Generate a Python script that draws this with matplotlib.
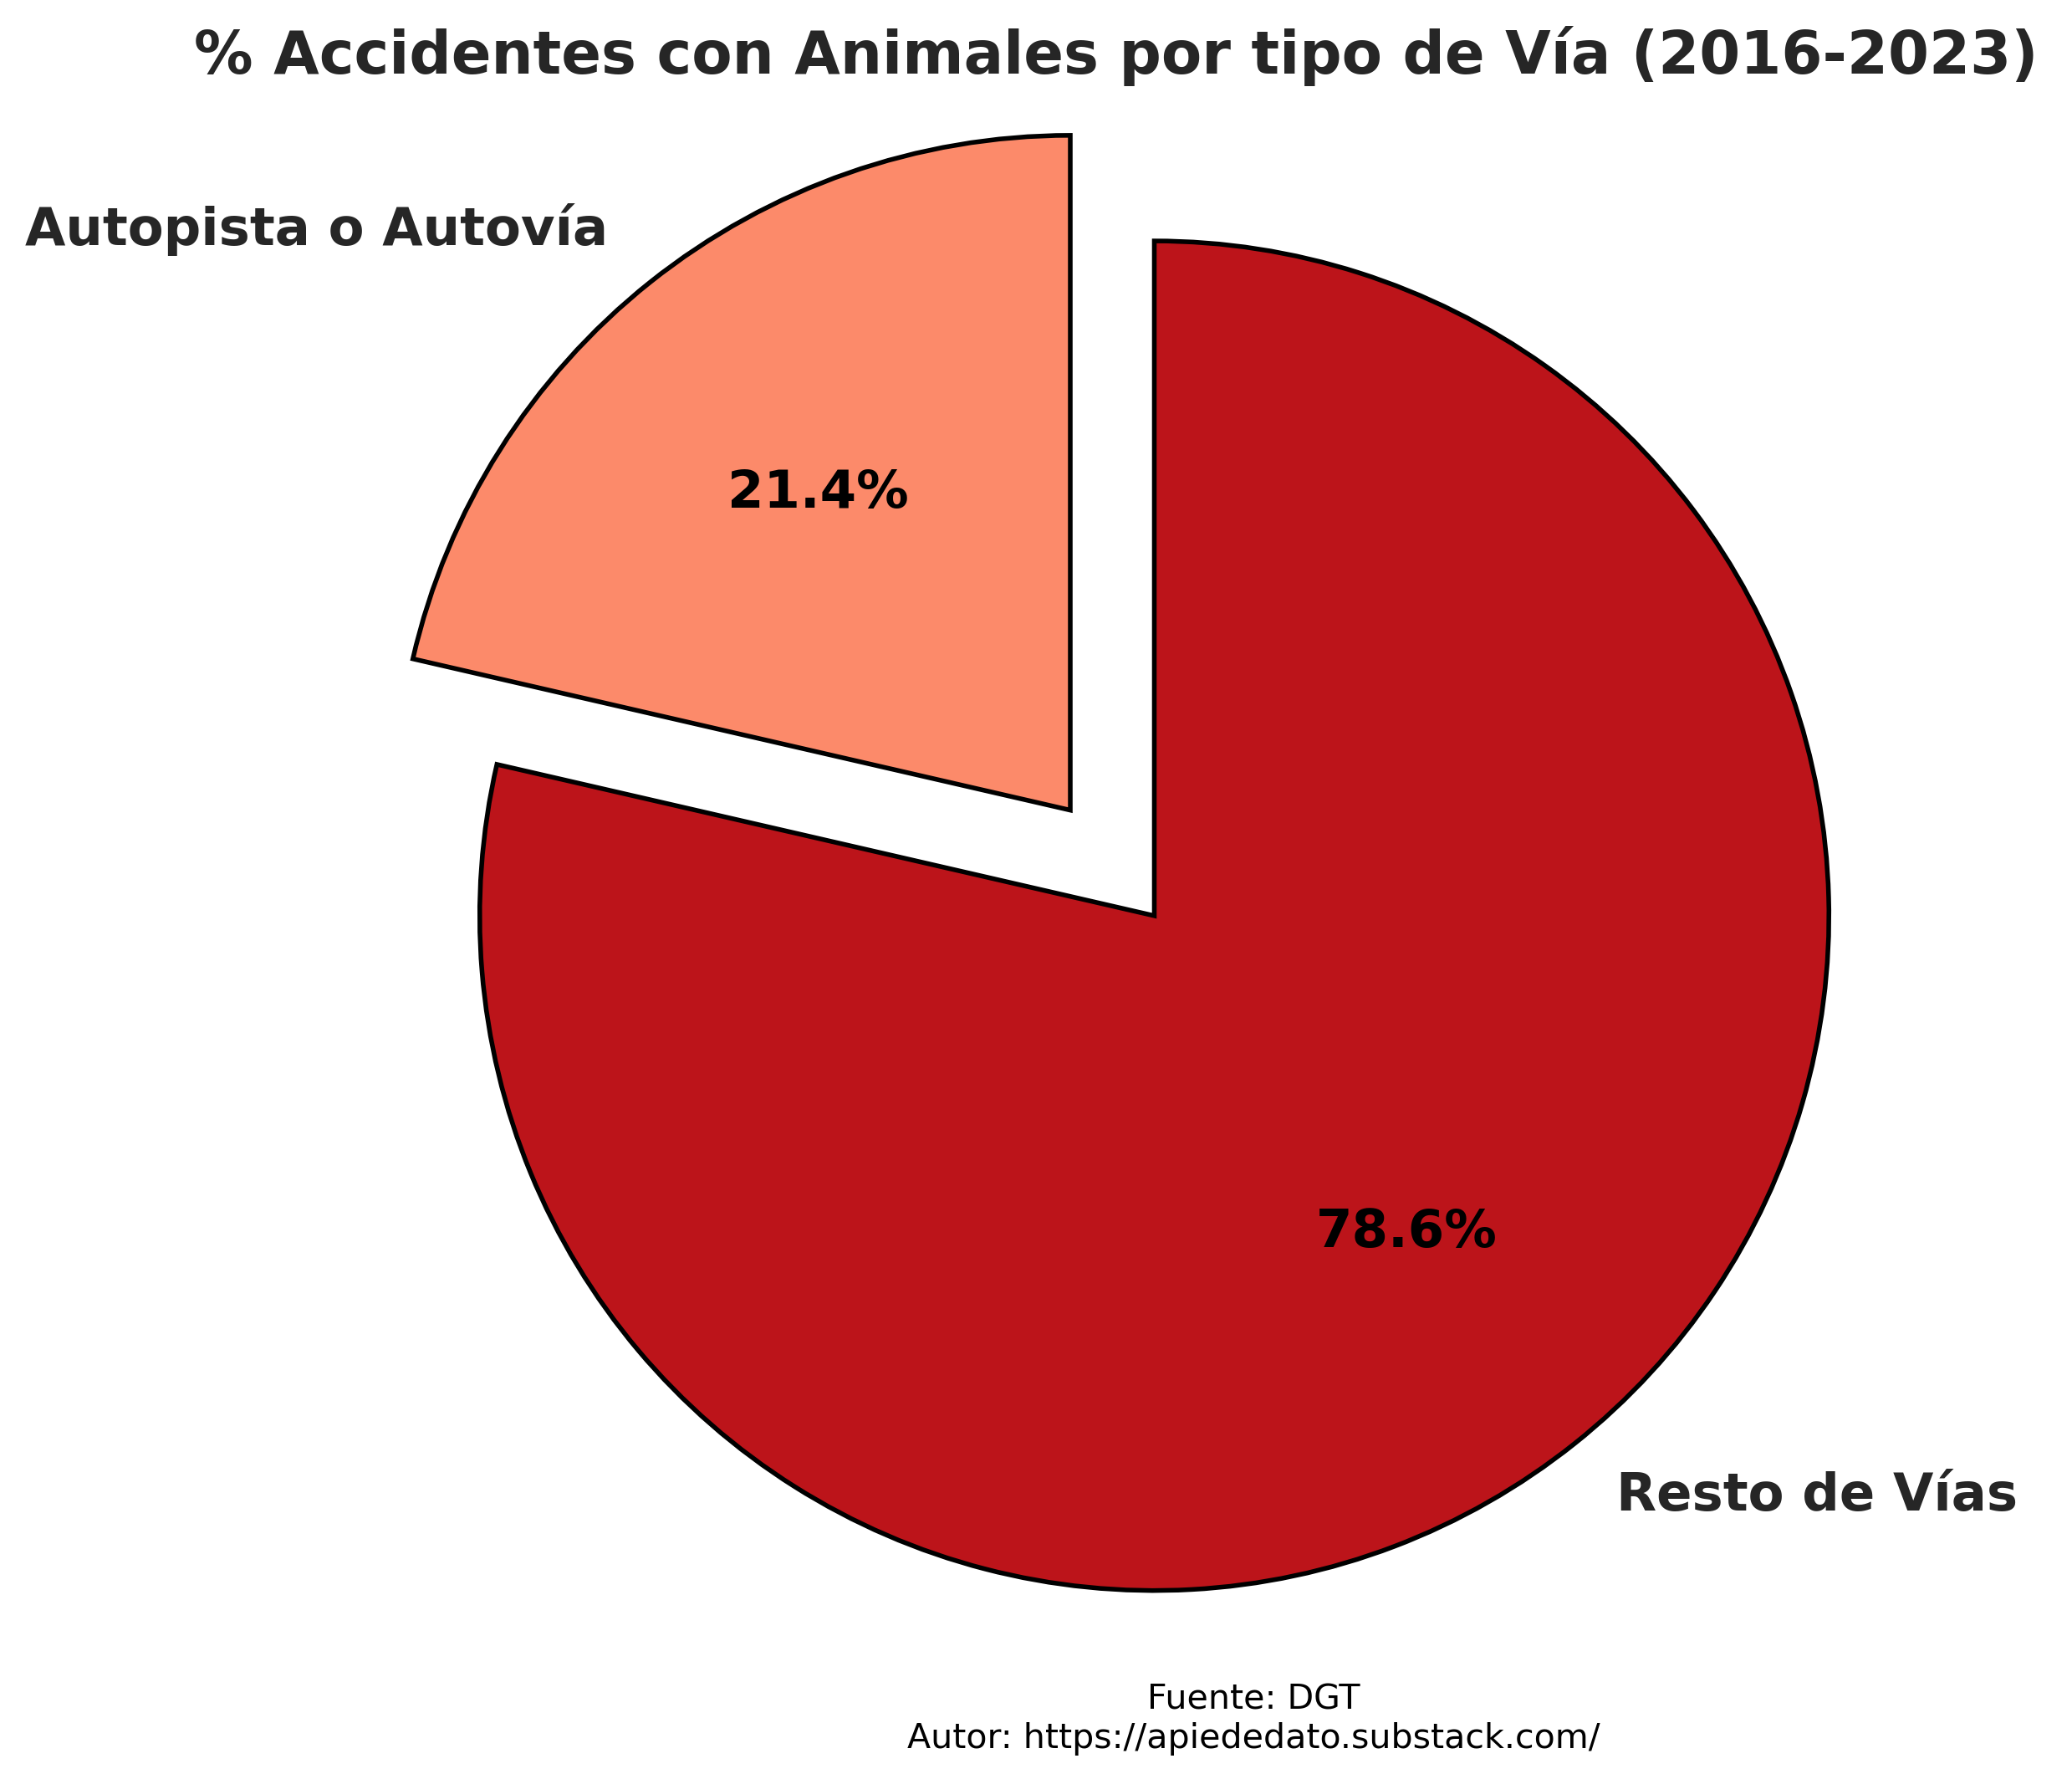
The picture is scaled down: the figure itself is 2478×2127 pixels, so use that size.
import matplotlib
matplotlib.use('Agg')
import matplotlib.pyplot as plt

# datos
tipos_via = ['Autopista o Autovía', 'Resto de Vías']
porcentajes = [21.4, 78.6]
colores = ['#FC8A6A', '#BC141A']
explode = [0.2, 0]

fig = plt.figure(figsize=(2478 / 200, 2127 / 200), dpi=200)
ax = fig.add_axes([0.1485, 0.0092, 0.8172, 0.9521])

wedges, texts, autotexts = ax.pie(
    porcentajes,
    labels=tipos_via,
    colors=colores,
    explode=explode,
    startangle=90,
    autopct='%1.1f%%',
    wedgeprops={'edgecolor': 'black', 'linewidth': 2},
    textprops={'fontsize': 22.5, 'fontweight': 'bold', 'color': '#262626'},
)
for t in autotexts:
    t.set_color('black')
    t.set_fontsize(22.5)
    t.set_fontweight('bold')

ax.set_aspect('equal')
ax.set_xlim(-1.255, 1.255)
ax.set_ylim(-1.255, 1.255)
ax.axis('off')

fig.text(0.5387, 0.9585, '% Accidentes con Animales por tipo de Vía (2016-2023)',
         ha='center', va='baseline', fontsize=25.4, fontweight='bold', color='#262626')
fig.text(0.6049, 0.0175, 'Fuente: DGT\nAutor: https://apiededato.substack.com/',
         ha='center', va='baseline', multialignment='center', fontsize=14.8, color='black')

fig.savefig('out.png', dpi=200, facecolor='white')
